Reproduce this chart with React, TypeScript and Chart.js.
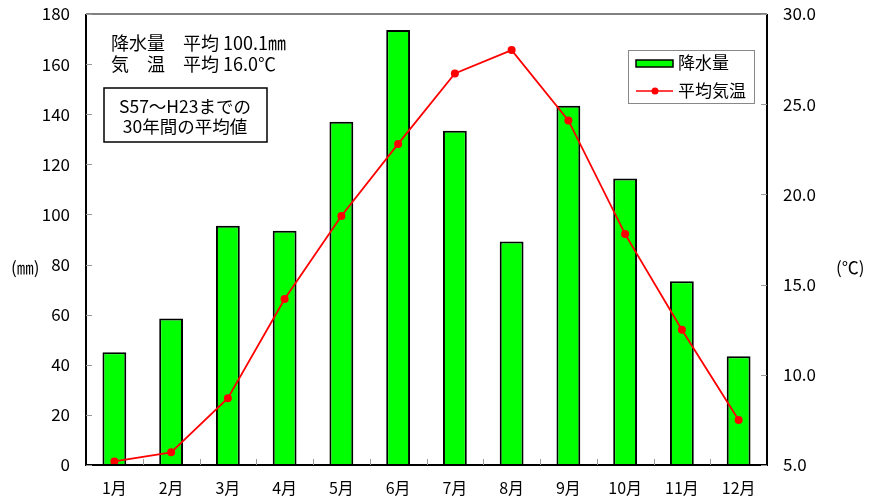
import React, { useEffect, useRef } from "react";
import { Chart, registerables } from "chart.js";

Chart.register(...registerables);

const months = ["1月", "2月", "3月", "4月", "5月", "6月", "7月", "8月", "9月", "10月", "11月", "12月"];
const precipitation = [45.0, 58.5, 95.5, 93.5, 137.0, 173.6, 133.4, 89.2, 143.4, 114.3, 73.3, 43.4];
const temperature = [5.2, 5.7, 8.7, 14.2, 18.8, 22.8, 26.7, 28.0, 24.1, 17.8, 12.5, 7.5];
const precipLabel = "降水量";
const tempLabel = "平均気温";
const summaryLines = ["降水量　平均 100.1㎜", "気　温　平均 16.0℃"];
const noteLines = ["S57～H23までの", "30年間の平均値"];
const leftUnit = "(㎜)";
const rightUnit = "(℃)";

const FONT = "'Noto Sans CJK JP', 'Noto Sans', sans-serif";

const overlayPlugin = {
  id: "overlay",
  afterDraw(chart: any) {
    const ctx = chart.ctx;
    const a = chart.chartArea;
    const xs = chart.scales.x;
    const yl = chart.scales.y;
    const yr = chart.scales.y1;
    ctx.save();
    // frame
    ctx.lineWidth = 2;
    ctx.strokeStyle = "#808080";
    ctx.beginPath();
    ctx.moveTo(a.left, a.top);
    ctx.lineTo(a.right, a.top);
    ctx.stroke();
    ctx.strokeStyle = "#000";
    ctx.beginPath();
    ctx.moveTo(a.left, a.top);
    ctx.lineTo(a.left, a.bottom);
    ctx.lineTo(a.right, a.bottom);
    ctx.lineTo(a.right, a.top);
    ctx.stroke();
    // inward ticks
    ctx.strokeStyle = "#999";
    ctx.lineWidth = 1;
    ctx.beginPath();
    yl.ticks.forEach((t: any) => {
      const y = Math.round(yl.getPixelForValue(t.value)) + 0.5;
      ctx.moveTo(a.left, y);
      ctx.lineTo(a.left + 6, y);
    });
    yr.ticks.forEach((t: any) => {
      const y = Math.round(yr.getPixelForValue(t.value)) + 0.5;
      ctx.moveTo(a.right, y);
      ctx.lineTo(a.right - 6, y);
    });
    for (let i = 1; i < months.length; i++) {
      const x = Math.round(xs.getPixelForValue(i - 0.5)) + 0.5;
      ctx.moveTo(x, a.bottom);
      ctx.lineTo(x, a.bottom - 6);
    }
    ctx.stroke();

    // unit labels
    ctx.fillStyle = "#000";
    ctx.font = `17px ${FONT}`;
    ctx.textBaseline = "middle";
    ctx.textAlign = "left";
    const midY = a.bottom - 197;
    ctx.fillText(leftUnit, 11, midY);
    ctx.fillText(rightUnit, 836, midY);

    // summary text
    ctx.font = `18px ${FONT}`;
    ctx.fillText(summaryLines[0], a.left + 25, 43);
    ctx.fillText(summaryLines[1], a.left + 25, 64);

    // note box
    ctx.lineWidth = 1.5;
    ctx.strokeStyle = "#000";
    ctx.strokeRect(a.left + 18, 88, 163, 54);
    ctx.textAlign = "center";
    ctx.font = `17.5px ${FONT}`;
    ctx.fillText(noteLines[0], a.left + 18 + 81, 106);
    ctx.fillText(noteLines[1], a.left + 18 + 81, 126);

    // legend
    const lx = 628, ly = 50, lw = 126, lh = 53;
    ctx.fillStyle = "#fff";
    ctx.fillRect(lx, ly, lw, lh);
    ctx.strokeStyle = "#888";
    ctx.lineWidth = 1;
    ctx.strokeRect(lx + 0.5, ly + 0.5, lw, lh);
    const ds = chart.data.datasets;
    const barDs = ds.find((d: any) => d.type === "bar");
    const lineDs = ds.find((d: any) => d.type === "line");
    ctx.fillStyle = barDs.backgroundColor;
    ctx.fillRect(lx + 8, ly + 10, 37, 7);
    ctx.strokeStyle = "#000";
    ctx.lineWidth = 1.5;
    ctx.strokeRect(lx + 8, ly + 10, 37, 7);
    ctx.strokeStyle = lineDs.borderColor;
    ctx.lineWidth = 1.5;
    ctx.beginPath();
    ctx.moveTo(lx + 8, ly + 41);
    ctx.lineTo(lx + 45, ly + 41);
    ctx.stroke();
    ctx.fillStyle = lineDs.borderColor;
    ctx.beginPath();
    ctx.arc(lx + 27, ly + 41, 3.5, 0, Math.PI * 2);
    ctx.fill();
    ctx.fillStyle = "#000";
    ctx.textAlign = "left";
    ctx.font = `17px ${FONT}`;
    ctx.fillText(barDs.label, lx + 50, ly + 13);
    ctx.fillText(lineDs.label, lx + 50, ly + 41);
    ctx.restore();
  },
};

export default function App() {
  const ref = useRef<HTMLCanvasElement>(null);
  useEffect(() => {
    if (!ref.current) return;
    const chart = new Chart(ref.current, {
      type: "bar",
      data: {
        labels: months,
        datasets: [
          {
            type: "bar",
            label: precipLabel,
            data: precipitation,
            yAxisID: "y",
            backgroundColor: "#00FF00",
            borderColor: "#000",
            borderWidth: 2,
            barPercentage: 0.42,
            categoryPercentage: 1,
            order: 1,
          },
          {
            type: "line",
            label: tempLabel,
            data: temperature,
            yAxisID: "y1",
            borderColor: "#FF0000",
            backgroundColor: "#FF0000",
            borderWidth: 1.8,
            pointRadius: 4,
            pointBackgroundColor: "#FF0000",
            pointBorderWidth: 0,
            tension: 0,
            order: 0,
          } as any,
        ],
      },
      options: {
        responsive: false,
        animation: false,
        layout: { padding: { top: 14, left: 0, right: 0, bottom: 0 } },
        plugins: { legend: { display: false }, tooltip: { enabled: false } },
        scales: {
          x: {
            grid: { display: false, drawTicks: false },
            border: { display: false },
            ticks: { color: "#000", font: { family: FONT, size: 16 }, padding: 13, maxRotation: 0 },
            afterFit: (s: any) => { s.height = 38; s.paddingLeft = 0; s.paddingRight = 0; },
          },
          y: {
            position: "left",
            min: 0,
            max: 180,
            grid: { display: false, drawTicks: false },
            border: { display: false },
            ticks: { stepSize: 20, color: "#000", font: { family: FONT, size: 17 }, padding: 16 },
            afterFit: (s: any) => { s.width = 86; s.paddingTop = 0; s.paddingBottom = 0; },
          },
          y1: {
            position: "right",
            min: 5,
            max: 30,
            grid: { display: false, drawTicks: false },
            border: { display: false },
            ticks: {
              stepSize: 5,
              color: "#000",
              font: { family: FONT, size: 17 },
              padding: 16,
              callback: (v: any) => Number(v).toFixed(1),
            },
            afterFit: (s: any) => { s.width = 103; s.paddingTop = 0; s.paddingBottom = 0; },
          },
        },
      },
      plugins: [overlayPlugin],
    });
    return () => chart.destroy();
  }, []);
  return (
    <div style={{ position: "fixed", left: 0, top: 0, width: 870, height: 503, background: "#fff" }}>
      <canvas ref={ref} width={870} height={503} />
    </div>
  );
}
